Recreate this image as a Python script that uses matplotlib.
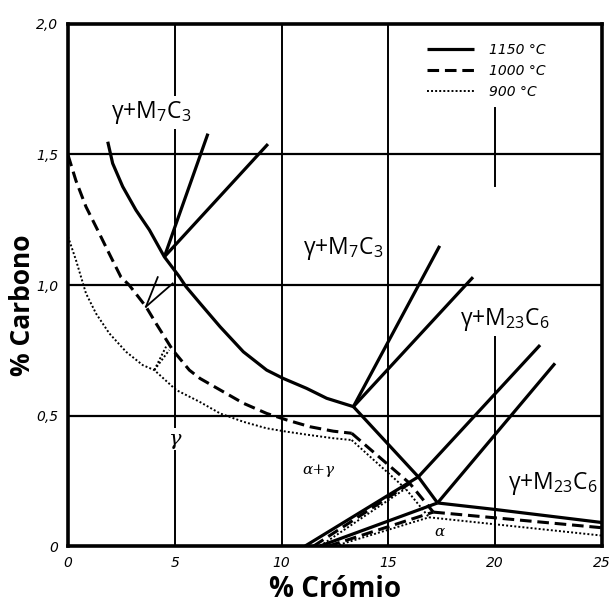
import matplotlib.pyplot as plt

plt.rcParams['font.family'] = ['Open Sans', 'DejaVu Sans']
plt.rcParams['mathtext.default'] = 'regular'

### boundary data (% Cr, % C) ###
# 1150 C
c1150_x = [1.86, 2.09, 2.56, 3.18, 3.81, 4.51, 5.21, 5.52, 6.18, 7.12, 8.21, 9.30, 10.08, 11.17, 12.11, 13.36]
c1150_y = [1.549, 1.466, 1.377, 1.287, 1.211, 1.108, 1.032, 0.994, 0.93, 0.84, 0.744, 0.674, 0.642, 0.604, 0.566, 0.534]
m7c3_1150_a = ([4.51, 6.55], [1.108, 1.58])
m7c3_1150_b = ([4.51, 9.36], [1.108, 1.54])
m7c3_1150_c = ([13.36, 17.4], [0.534, 1.15])
m7c3_1150_d = ([13.36, 18.96], [0.534, 1.03])
drop_1150 = ([13.36, 16.4, 17.3], [0.534, 0.265, 0.165])
m23_1150_a = ([16.4, 22.1], [0.265, 0.77])
m23_1150_b = ([17.3, 22.8], [0.165, 0.70])
alpha_1150_top = ([11.1, 16.4], [0.0, 0.265])
alpha_1150_low = ([11.8, 17.3], [0.0, 0.165])
right_1150 = ([17.3, 20.0, 25.0], [0.165, 0.14, 0.09])

# 1000 C
c1000_x = [0.0, 0.37, 0.84, 1.39, 1.93, 2.48, 2.86, 3.65, 4.12, 4.90, 5.68, 6.18, 7.12, 8.21, 9.30, 10.24, 11.33, 12.42, 13.28]
c1000_y = [1.498, 1.40, 1.30, 1.21, 1.12, 1.03, 1.0, 0.917, 0.853, 0.751, 0.674, 0.642, 0.598, 0.547, 0.508, 0.483, 0.457, 0.44, 0.432]
tie_1000_a = ([3.65, 4.2], [0.917, 1.03])
tie_1000_b = ([3.65, 4.9], [0.917, 1.006])
drop_1000 = ([13.28, 16.0, 17.1], [0.432, 0.24, 0.13])
alpha_1000_top = ([11.5, 16.0], [0.0, 0.24])
alpha_1000_low = ([12.2, 17.1], [0.0, 0.13])
right_1000 = ([17.1, 25.0], [0.13, 0.07])

# 900 C
c900_x = [0.0, 0.37, 0.84, 1.31, 1.93, 2.72, 3.50, 4.04, 5.06, 6.15, 7.12, 8.21, 9.30, 10.24, 11.33, 12.42, 13.28]
c900_y = [1.185, 1.096, 0.968, 0.891, 0.815, 0.744, 0.693, 0.674, 0.598, 0.553, 0.508, 0.476, 0.451, 0.438, 0.425, 0.413, 0.406]
tie_900_a = ([4.04, 4.59], [0.674, 0.764])
tie_900_b = ([4.04, 4.74], [0.674, 0.751])
drop_900 = ([13.28, 15.8, 16.9], [0.406, 0.22, 0.11])
alpha_900_top = ([11.8, 15.8], [0.0, 0.22])
alpha_900_low = ([12.5, 16.9], [0.0, 0.11])
right_900 = ([16.9, 25.0], [0.11, 0.04])

x_ticks = [0, 5, 10, 15, 20, 25]
x_labels = ['0', '5', '10', '15', '20', '25']
y_ticks = [0, 0.5, 1.0, 1.5, 2.0]
y_labels = ['0', '0,5', '1,0', '1,5', '2,0']

narrow = ['Liberation Sans Narrow', 'DejaVu Sans']

### figure ###
fig = plt.figure(figsize=(6.15, 6.12), dpi=100)
ax = fig.add_axes([0.1106, 0.1078, 0.8683, 0.853])
ax.set_xlim(0, 25)
ax.set_ylim(0, 2)

# grid (x=20 only partly drawn)
for gx in [5, 10, 15]:
    ax.axvline(gx, color='black', lw=1.4, zorder=1)
ax.axvline(20, ymin=0.0, ymax=0.41, color='black', lw=1.4, zorder=1)
ax.axvline(20, ymin=0.69, ymax=0.84, color='black', lw=1.4, zorder=1)
for gy in [0.5, 1.0, 1.5]:
    ax.axhline(gy, color='black', lw=1.6, zorder=1)

solid = dict(color='black', lw=2.3, solid_capstyle='butt')
dashed = dict(color='black', lw=2.2, dashes=(3.8, 1.9))
dotted = dict(color='black', lw=1.4, dashes=(1.0, 1.1))

ax.plot(c1150_x, c1150_y, label='1150 °C', **solid)
for seg in [m7c3_1150_a, m7c3_1150_b, m7c3_1150_c, m7c3_1150_d, drop_1150,
            m23_1150_a, m23_1150_b, alpha_1150_top, alpha_1150_low, right_1150]:
    ax.plot(seg[0], seg[1], **solid)

ax.plot(c1000_x, c1000_y, label='1000 °C', **dashed)
for seg in [drop_1000, alpha_1000_top, alpha_1000_low, right_1000]:
    ax.plot(seg[0], seg[1], **dashed)
for seg in [tie_1000_a, tie_1000_b]:
    ax.plot(seg[0], seg[1], color='black', lw=1.3)

ax.plot(c900_x, c900_y, label='900 °C', **dotted)
for seg in [drop_900, alpha_900_top, alpha_900_low, right_900, tie_900_a, tie_900_b]:
    ax.plot(seg[0], seg[1], **dotted)

for s in ax.spines.values():
    s.set_linewidth(2.6)

ax.set_xticks(x_ticks)
ax.set_xticklabels(x_labels, fontstyle='italic', family=narrow, fontsize=10)
ax.set_yticks(y_ticks)
ax.set_yticklabels(y_labels, fontstyle='italic', family=narrow, fontsize=10)
ax.tick_params(length=0, pad=7)

ax.legend(loc='upper left', bbox_to_anchor=(0.648, 0.988), frameon=False,
          handlelength=3.4, handletextpad=1.1, labelspacing=0.5,
          prop=dict(family=narrow, style='italic', size=10))

# phase region labels
box = dict(facecolor='white', edgecolor='none', pad=2)
lab = dict(fontsize=16.5, ha='center', va='center', bbox=box, zorder=5, clip_on=False)
ax.text(3.89, 1.66, r'γ+M$_7$C$_3$', **lab)
ax.text(12.87, 1.14, r'γ+M$_7$C$_3$', **lab)
ax.text(20.46, 0.866, r'γ+M$_{23}$C$_6$', **lab)
ax.text(22.7, 0.24, r'γ+M$_{23}$C$_6$', **lab)

greek = dict(family='DejaVu Serif', style='italic', ha='center', va='center', zorder=5)
ax.text(5.0, 0.41, 'γ', fontsize=15, bbox=dict(facecolor='white', edgecolor='none', pad=1), **greek)
ax.text(11.7, 0.29, 'α+γ', fontsize=11, **greek)
ax.text(17.4, 0.055, 'α', fontsize=11, **greek)

fig.text(0.037, 0.502, '% Carbono', rotation=90, ha='center', va='center',
         fontsize=19, fontweight='bold')
fig.text(0.545, 0.036, '% Crómio', ha='center', va='center',
         fontsize=20, fontweight='bold')

plt.savefig('out.png', dpi=100)
